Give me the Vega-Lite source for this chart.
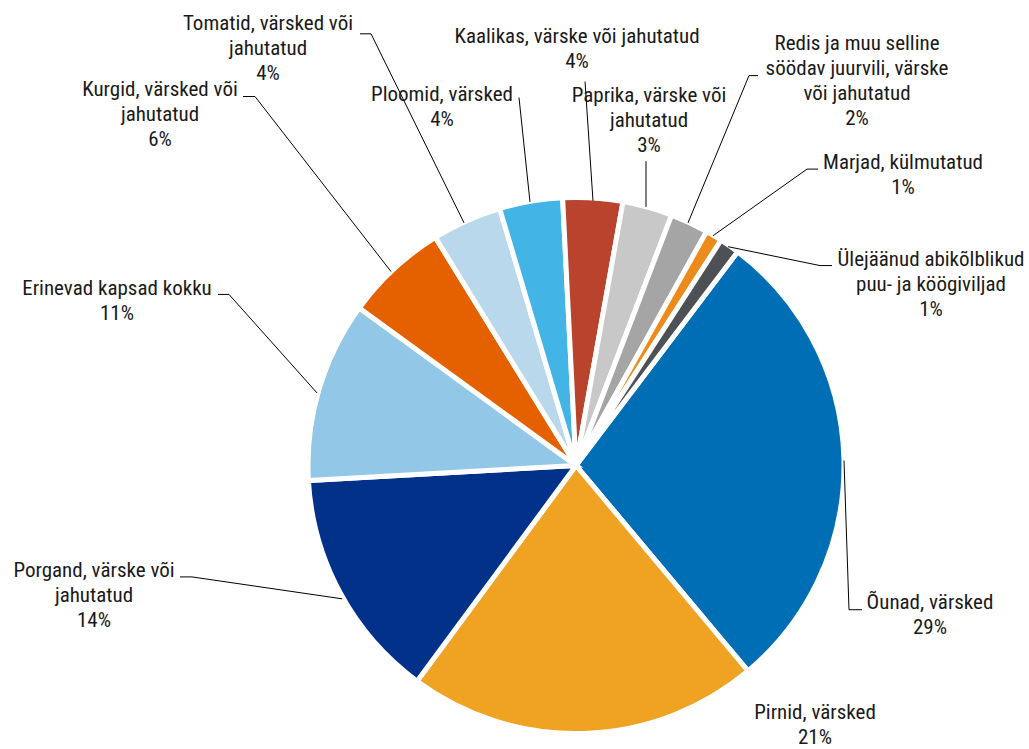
{
  "$schema": "https://vega.github.io/schema/vega-lite/v6.json",
  "width": 1029,
  "height": 749,
  "autosize": {"type": "fit", "contains": "padding"},
  "padding": 0,
  "background": "white",
  "config": {"view": {"stroke": null}},
  "datasets": {
    "slices": [
      {"ord": 1, "name": "Õunad, värsked", "share": 28.6},
      {"ord": 2, "name": "Pirnid, värsked", "share": 21.2},
      {"ord": 3, "name": "Porgand, värske või jahutatud", "share": 14.0},
      {"ord": 4, "name": "Erinevad kapsad kokku", "share": 10.9},
      {"ord": 5, "name": "Kurgid, värsked või jahutatud", "share": 6.2},
      {"ord": 6, "name": "Tomatid, värsked või jahutatud", "share": 4.2},
      {"ord": 7, "name": "Ploomid, värsked", "share": 3.8},
      {"ord": 8, "name": "Kaalikas, värske või jahutatud", "share": 3.6},
      {"ord": 9, "name": "Paprika, värske või jahutatud", "share": 3.0},
      {"ord": 10, "name": "Redis ja muu selline söödav juurvili, värske või jahutatud", "share": 2.3},
      {"ord": 11, "name": "Marjad, külmutatud", "share": 1.0},
      {"ord": 12, "name": "Ülejäänud abikõlblikud puu- ja köögiviljad", "share": 1.2}
    ],
    "labels": [
      {"label": "Tomatid, värsked või\njahutatud\n4%", "lx": -117.56, "ly": 167.18},
      {"label": "Kurgid, värsked või\njahutatud\n6%", "lx": -158.78, "ly": 141.6},
      {"label": "Erinevad kapsad kokku\n11%", "lx": -175.19, "ly": 65.27},
      {"label": "Porgand, värske või\njahutatud\n14%", "lx": -183.97, "ly": -42.75},
      {"label": "Õunad, värsked\n29%", "lx": 135.11, "ly": -54.96},
      {"label": "Pirnid, värsked\n21%", "lx": 91.22, "ly": -97.33},
      {"label": "Ploomid, värsked\n4%", "lx": -51.15, "ly": 139.69},
      {"label": "Kaalikas, värske või jahutatud\n4%", "lx": 0.38, "ly": 162.21},
      {"label": "Paprika, värske või\njahutatud\n3%", "lx": 27.86, "ly": 139.31},
      {"label": "Redis ja muu selline\nsöödav juurvili, värske\nvõi jahutatud\n2%", "lx": 107.25, "ly": 159.54},
      {"label": "Marjad, külmutatud\n1%", "lx": 124.81, "ly": 113.74},
      {"label": "Ülejäänud abikõlblikud\npuu- ja köögiviljad\n1%", "lx": 135.5, "ly": 76.72}
    ],
    "leaders": [
      {"id": "Tomatid", "seq": 1, "px": -82.44, "py": 165.65},
      {"id": "Tomatid", "seq": 2, "px": -78.24, "py": 165.65},
      {"id": "Tomatid", "seq": 3, "px": -42.75, "py": 93.13},
      {"id": "Kurgid", "seq": 1, "px": -127.1, "py": 141.6},
      {"id": "Kurgid", "seq": 2, "px": -122.52, "py": 141.6},
      {"id": "Kurgid", "seq": 3, "px": -70.61, "py": 74.43},
      {"id": "Kapsad", "seq": 1, "px": -136.64, "py": 65.65},
      {"id": "Kapsad", "seq": 2, "px": -132.44, "py": 65.65},
      {"id": "Kapsad", "seq": 3, "px": -98.86, "py": 27.86},
      {"id": "Porgand", "seq": 1, "px": -151.15, "py": -42.75},
      {"id": "Porgand", "seq": 2, "px": -146.57, "py": -42.75},
      {"id": "Porgand", "seq": 3, "px": -89.31, "py": -51.15},
      {"id": "Õunad", "seq": 1, "px": 102.29, "py": 1.91},
      {"id": "Õunad", "seq": 2, "px": 104.2, "py": -55.34},
      {"id": "Õunad", "seq": 3, "px": 109.16, "py": -55.34},
      {"id": "Ploomid", "seq": 1, "px": -21.76, "py": 141.22},
      {"id": "Ploomid", "seq": 2, "px": -17.56, "py": 101.15},
      {"id": "Kaalikas", "seq": 1, "px": 3.44, "py": 147.33},
      {"id": "Kaalikas", "seq": 2, "px": 6.49, "py": 101.53},
      {"id": "Paprika", "seq": 1, "px": 26.72, "py": 116.79},
      {"id": "Paprika", "seq": 2, "px": 26.72, "py": 99.24},
      {"id": "Redis", "seq": 1, "px": 69.47, "py": 149.62},
      {"id": "Redis", "seq": 2, "px": 66.03, "py": 149.62},
      {"id": "Redis", "seq": 3, "px": 42.75, "py": 93.13},
      {"id": "Marjad", "seq": 1, "px": 92.37, "py": 113.74},
      {"id": "Marjad", "seq": 2, "px": 88.17, "py": 113.74},
      {"id": "Marjad", "seq": 3, "px": 52.29, "py": 88.17},
      {"id": "Ülejäänud", "seq": 1, "px": 97.71, "py": 76.72},
      {"id": "Ülejäänud", "seq": 2, "px": 93.13, "py": 76.72},
      {"id": "Ülejäänud", "seq": 3, "px": 58.02, "py": 83.97}
    ]
  },
  "layer": [
    {
      "data": {"name": "slices"},
      "mark": {"type": "arc", "outerRadius": 268, "stroke": "white", "strokeWidth": 5},
      "encoding": {
        "theta": {"field": "share", "type": "quantitative", "stack": true, "scale": {"range": [0.6475, 6.9307]}},
        "order": {"field": "ord", "type": "quantitative"},
        "color": {
          "field": "name", "type": "nominal", "legend": null,
          "scale": {
            "domain": ["Õunad, värsked", "Pirnid, värsked", "Porgand, värske või jahutatud", "Erinevad kapsad kokku", "Kurgid, värsked või jahutatud", "Tomatid, värsked või jahutatud", "Ploomid, värsked", "Kaalikas, värske või jahutatud", "Paprika, värske või jahutatud", "Redis ja muu selline söödav juurvili, värske või jahutatud", "Marjad, külmutatud", "Ülejäänud abikõlblikud puu- ja köögiviljad"],
            "range": ["#006EB4", "#F0A323", "#02318A", "#92C7E7", "#E56100", "#BAD8EB", "#42B4E6", "#B9432C", "#C8C8C8", "#A5A5A5", "#EC8A1C", "#4D5156"]
          }
        },
        "x": {"datum": 0, "type": "quantitative", "scale": {"domain": [-219.85, 172.9], "nice": false, "zero": false}, "axis": null},
        "y": {"datum": 0, "type": "quantitative", "scale": {"domain": [-107.25, 178.63], "nice": false, "zero": false}, "axis": null}
      }
    },
    {
      "data": {"name": "leaders"},
      "mark": {"type": "line", "color": "#000000", "strokeWidth": 1},
      "encoding": {
        "x": {"field": "px", "type": "quantitative", "scale": {"domain": [-219.85, 172.9], "nice": false, "zero": false}, "axis": null},
        "y": {"field": "py", "type": "quantitative", "scale": {"domain": [-107.25, 178.63], "nice": false, "zero": false}, "axis": null},
        "detail": {"field": "id", "type": "nominal"},
        "order": {"field": "seq", "type": "quantitative"}
      }
    },
    {
      "data": {"name": "labels"},
      "mark": {"type": "text", "align": "center", "baseline": "alphabetic", "font": "Roboto Condensed, Liberation Sans Narrow, Roboto", "fontSize": 21, "lineHeight": 25, "lineBreak": "\n", "color": "#1a1a1a"},
      "encoding": {
        "x": {"field": "lx", "type": "quantitative", "scale": {"domain": [-219.85, 172.9], "nice": false, "zero": false}, "axis": null},
        "y": {"field": "ly", "type": "quantitative", "scale": {"domain": [-107.25, 178.63], "nice": false, "zero": false}, "axis": null},
        "text": {"field": "label", "type": "nominal"}
      }
    }
  ]
}
